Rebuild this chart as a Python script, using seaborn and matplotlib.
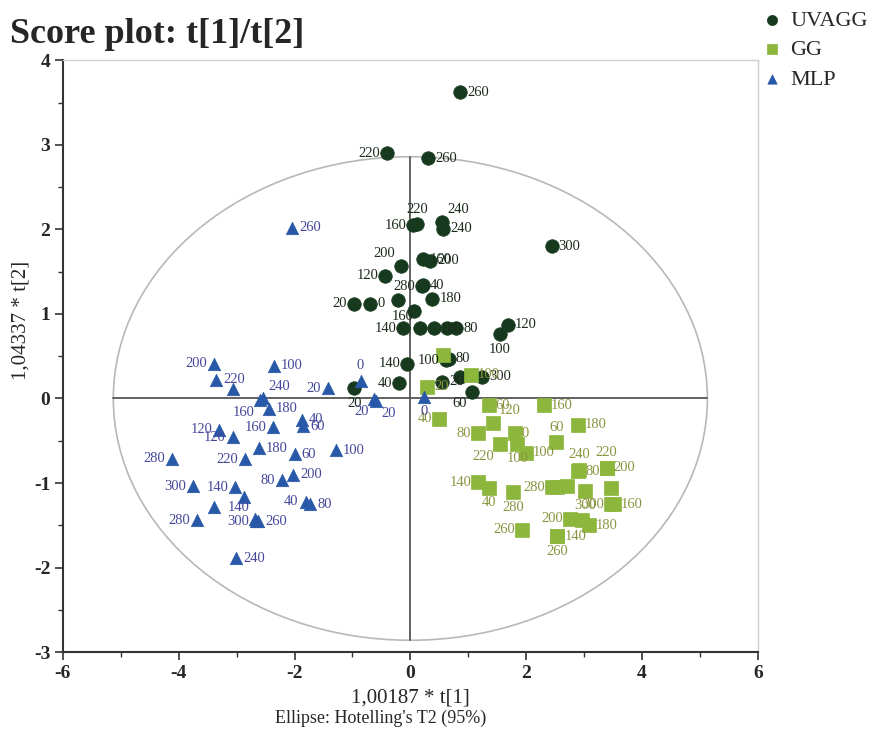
import numpy as np
import pandas as pd
import matplotlib
matplotlib.use("Agg")
import matplotlib.pyplot as plt
from matplotlib.patches import Ellipse
from matplotlib.ticker import MultipleLocator
import seaborn as sns

# ---------------- data ----------------
uvagg_t1 = [0.86, -0.41, 0.31, 0.05, 0.12, 0.55, 0.57, 2.44, 0.21, 0.34, -0.16, -0.43, 0.22, 0.20,
            -0.97, -0.69, -0.21, 0.38, 0.07, -0.12, 0.16, 0.41, 0.64, 0.79, 1.68, 1.54, -0.05,
            0.66, 0.62, -0.19, -0.97, 0.55, 0.86, 1.24, 1.07]
uvagg_t2 = [3.62, 2.90, 2.84, 2.05, 2.06, 2.09, 2.01, 1.80, 1.65, 1.63, 1.57, 1.45, 1.34, 1.33,
            1.12, 1.12, 1.16, 1.18, 1.04, 0.83, 0.83, 0.83, 0.83, 0.83, 0.87, 0.76, 0.41,
            0.47, 0.45, 0.18, 0.12, 0.20, 0.26, 0.26, 0.08]
uvagg_labels = ["260", "220", "260", "160", "220", "240", "240", "300", "160", "200", "200", "120", "40", "280",
                "20", "0", "", "180", "", "140", "160", "180", "", "80", "120", "100", "140",
                "80", "100", "40", "20", "20", "", "300", "60"]
uvagg_sides = ["r", "l", "r", "l", "t", "tr", "r", "r", "r", "r", "tl", "l", "r", "l",
               "l", "r", "r", "r", "r", "l", "tl", "r", "r", "r", "r", "b", "l",
               "r", "l", "l", "b", "r", "r", "r", "bl"]

gg_t1 = [0.29, 1.35, 2.31, 0.50, 1.43, 2.90, 1.17, 1.80, 1.55, 1.85, 2.00, 2.52, 2.90, 2.92,
         3.39, 3.39, 1.17, 1.35, 1.78, 2.45, 2.54, 2.71, 3.02, 3.47, 3.51, 3.46, 2.75, 2.97,
         3.09, 1.93, 2.54, 2.54, 0.57, 1.05]
gg_t2 = [0.14, -0.08, -0.08, -0.24, -0.29, -0.31, -0.41, -0.41, -0.54, -0.54, -0.64, -0.52, -0.86, -0.84,
         -0.82, -0.82, -0.99, -1.06, -1.11, -1.05, -1.05, -1.03, -1.09, -1.06, -1.25, -1.25, -1.42, -1.44,
         -1.50, -1.55, -1.63, -1.63, 0.51, 0.28]
gg_labels = ["20", "60", "160", "40", "120", "180", "80", "0", "220", "100", "100", "60", "80", "240",
             "200", "220", "140", "40", "280", "280", "", "", "300", "", "160", "300", "200", "",
             "180", "260", "140", "260", "", "100"]
gg_sides = ["r", "r", "r", "l", "tr", "r", "l", "r", "bl", "b", "r", "t", "r", "t",
            "r", "t", "l", "b", "b", "l", "r", "r", "b", "r", "r", "l", "l", "r",
            "r", "l", "r", "b", "r", "r"]

mlp_t1 = [-3.39, -2.35, -3.35, -3.07, -2.59, -2.55, -2.44, -1.42, -0.86, -0.62, -0.60, -1.87, -1.85,
          -3.30, -3.07, -2.37, -2.61, -2.00, -1.28, -4.11, -2.85, -2.02, -2.21, -3.75, -3.02, -2.88,
          -1.81, -1.73, -3.39, -3.68, -2.63, -2.66, -2.68, -3.01, -2.04, 0.24]
mlp_t2 = [0.41, 0.39, 0.22, 0.11, -0.02, 0.00, -0.12, 0.12, 0.21, -0.01, -0.03, -0.25, -0.33,
          -0.37, -0.46, -0.34, -0.59, -0.66, -0.61, -0.71, -0.72, -0.90, -0.97, -1.04, -1.05, -1.16,
          -1.22, -1.25, -1.28, -1.44, -1.45, -1.45, -1.43, -1.89, 2.02, 0.02]
mlp_labels = ["200", "100", "220", "", "160", "240", "180", "20", "0", "20", "20", "40", "60",
              "120", "120", "160", "180", "60", "100", "280", "220", "200", "80", "300", "140", "",
              "40", "80", "", "280", "260", "300", "140", "240", "260", "0"]
mlp_sides = ["l", "r", "r", "r", "bl", "tr", "r", "l", "t", "bl", "br", "r", "r",
             "l", "l", "l", "r", "r", "r", "l", "l", "r", "l", "l", "l", "r",
             "l", "r", "r", "l", "r", "l", "tl", "r", "r", "b"]

groups = ["UVAGG", "GG", "MLP"]
x_ticks = [-6, -4, -2, 0, 2, 4, 6]
y_ticks = [-3, -2, -1, 0, 1, 2, 3, 4]
ellipse_a = 5.13   # Hotelling T2 95% semi-axis along t[1]
ellipse_b = 2.86   # semi-axis along t[2]

# ---------------- styling ----------------
colors = {"UVAGG": "#17391d", "GG": "#8cb73c", "MLP": "#2858a8"}
label_colors = {"UVAGG": "#1c2a1c", "GG": "#8a9440", "MLP": "#45479a"}
markers = {"UVAGG": "o", "GG": "s", "MLP": "^"}
sizes = {"UVAGG": 95, "GG": 90, "MLP": 80}

sns.set_theme(style="white")
plt.rcParams["font.family"] = ["Liberation Serif", "DejaVu Serif"]
plt.rcParams["axes.unicode_minus"] = False

df = pd.concat([
    pd.DataFrame({"t1": uvagg_t1, "t2": uvagg_t2, "lab": uvagg_labels, "side": uvagg_sides, "grp": "UVAGG"}),
    pd.DataFrame({"t1": gg_t1, "t2": gg_t2, "lab": gg_labels, "side": gg_sides, "grp": "GG"}),
    pd.DataFrame({"t1": mlp_t1, "t2": mlp_t2, "lab": mlp_labels, "side": mlp_sides, "grp": "MLP"}),
], ignore_index=True)

fig = plt.figure(figsize=(8.74, 7.36), dpi=100)
ax = fig.add_axes([0.072, 0.114, 0.795, 0.804])

# ellipse and cross lines
ax.add_patch(Ellipse((0, 0), 2 * ellipse_a, 2 * ellipse_b, fill=False,
                     edgecolor="#b8b8b8", lw=1.2, zorder=1))
ax.plot([-ellipse_a, ellipse_a], [0, 0], color="#555555", lw=1.3, zorder=1)
ax.plot([0, 0], [-ellipse_b, ellipse_b], color="#555555", lw=1.3, zorder=1)

for g in groups:
    sub = df[df.grp == g]
    sns.scatterplot(data=sub, x="t1", y="t2", marker=markers[g], color=colors[g],
                    s=sizes[g], edgecolor=colors[g], linewidth=0.5, ax=ax, label=g, zorder=3)

offsets = {"r": ((5, 0), "left", "center"), "l": ((-5, 0), "right", "center"),
           "t": ((0, 6), "center", "bottom"), "b": ((0, -6), "center", "top"),
           "tr": ((4, 4), "left", "bottom"), "tl": ((-4, 4), "right", "bottom"),
           "bl": ((-4, -4), "right", "top"), "br": ((4, -4), "left", "top")}
for _, r in df.iterrows():
    if not r.lab:
        continue
    off, ha, va = offsets[r.side]
    ax.annotate(r.lab, (r.t1, r.t2), xytext=off, textcoords="offset points",
                ha=ha, va=va, fontsize=10.5, color=label_colors[r.grp], zorder=4)

ax.set_xlim(-6, 6)
ax.set_ylim(-3, 4)
ax.set_xticks(x_ticks)
ax.set_yticks(y_ticks)
ax.xaxis.set_minor_locator(MultipleLocator(1))
ax.yaxis.set_minor_locator(MultipleLocator(0.5))
ax.tick_params(axis="both", which="major", direction="out", length=6, width=1.2,
               labelsize=14, color="#333333", left=True, bottom=True, pad=3)
ax.tick_params(axis="both", which="minor", direction="out", length=3.5, width=1,
               color="#333333", left=True, bottom=True)
for lab in ax.get_xticklabels() + ax.get_yticklabels():
    lab.set_fontweight("bold")
for s in ["left", "bottom"]:
    ax.spines[s].set_color("#333333")
    ax.spines[s].set_linewidth(1.5)
for s in ["top", "right"]:
    ax.spines[s].set_color("#d0d0d0")
    ax.spines[s].set_linewidth(1)

ax.set_xlabel("1,00187 * t[1]", fontsize=15, labelpad=5)
ax.set_ylabel("1,04337 * t[2]", fontsize=15)
ax.yaxis.set_label_coords(-0.046, 0.56)
fig.text(0.436, 0.012, "Ellipse: Hotelling's T2 (95%)", ha="center", va="bottom", fontsize=13)
fig.text(0.012, 0.942, "Score plot: t[1]/t[2]", ha="left", va="baseline",
         fontsize=26, fontweight="bold")

if ax.legend_:
    ax.legend_.remove()
handles, labs = ax.get_legend_handles_labels()
fig.legend(handles, labs, loc="upper left", bbox_to_anchor=(0.866, 0.992), frameon=False,
           fontsize=16, handletextpad=0.3, labelspacing=0.4, markerscale=0.75,
           handlelength=1.0, borderpad=0.2, borderaxespad=0)

fig.savefig("out.png", dpi=100)
